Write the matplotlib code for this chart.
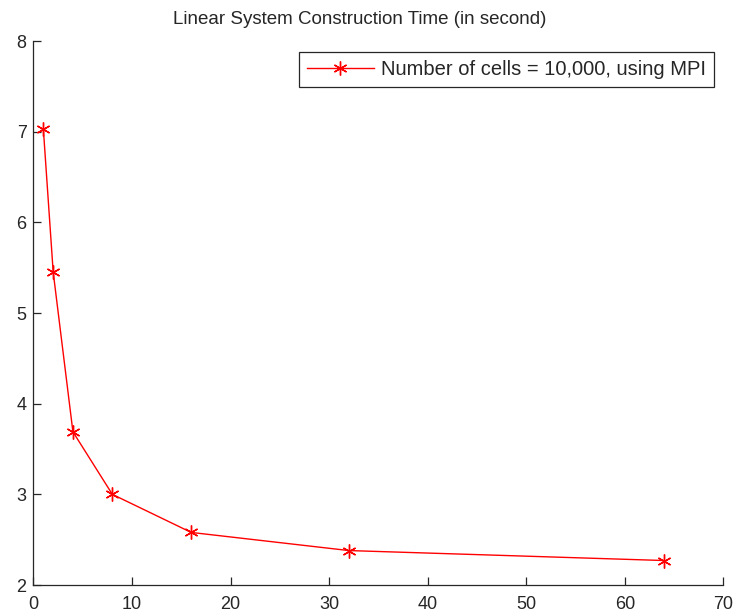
import matplotlib
matplotlib.use("Agg")
import matplotlib.pyplot as plt

# processes vs. construction time (seconds)
procs = [1, 2, 4, 8, 16, 32, 64]
times = [7.03, 5.45, 3.69, 3.00, 2.58, 2.38, 2.27]
series_label = "Number of cells = 10,000, using MPI"
title = "Linear System Construction Time (in second)"

plt.rcParams['font.family'] = ['Liberation Sans', 'DejaVu Sans']

fig = plt.figure(figsize=(7.36, 6.14), dpi=100)
ax = fig.add_axes([0.0455, 0.0472, 0.9375, 0.886])

ax.plot(procs, times, color='red', linewidth=1.0,
        marker=(6, 2, 0), markersize=10, markeredgewidth=1.0,
        label=series_label)

ax.set_xlim(0, 70)
ax.set_ylim(2, 8)
ax.set_xticks(range(0, 71, 10))
ax.set_yticks(range(2, 9))

ax.spines['top'].set_visible(False)
ax.spines['right'].set_visible(False)
for s in ('left', 'bottom'):
    ax.spines[s].set_color('#262626')
    ax.spines[s].set_linewidth(0.9)

ax.tick_params(direction='in', length=5.5, width=0.9, color='#262626',
               labelsize=13, labelcolor='#262626')
ax.tick_params(axis='y', pad=5)
ax.tick_params(axis='x', pad=8)

ax.set_title(title, fontsize=13.5, color='#262626', pad=12, x=0.473)

leg = ax.legend(loc='upper right', bbox_to_anchor=(0.986, 0.980),
                borderaxespad=0, fontsize=14.5, fancybox=False,
                handlelength=3.3, handletextpad=0.35, borderpad=0.4,
                framealpha=1)
leg.get_frame().set_edgecolor('#262626')
leg.get_frame().set_linewidth(0.9)
for t in leg.get_texts():
    t.set_color('#262626')

fig.savefig("out.png", dpi=100)
